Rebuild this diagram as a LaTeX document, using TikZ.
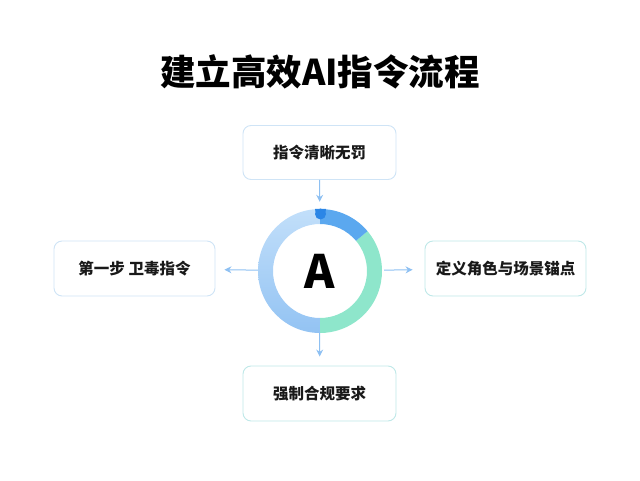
\documentclass[tikz,border=0pt]{standalone}
\usepackage{fontspec}
\setmainfont{Noto Sans CJK SC}
\usetikzlibrary{arrows.meta, positioning, calc}
\definecolor{boxblue}{HTML}{CFE4F6}
\definecolor{boxteal}{HTML}{BFE8E8}
\definecolor{arrowblue}{HTML}{8EC0F2}
\definecolor{ringblue}{HTML}{5BA8EF}
\definecolor{ringgreen}{HTML}{8EE6CB}
\definecolor{ringtop}{HTML}{C2DFFA}
\definecolor{ringbottom}{HTML}{93C3F3}
\definecolor{markblue}{HTML}{2B86E6}
\tikzstyle{stepbox} = [rectangle, rounded corners=8pt, minimum width=153pt, minimum height=54pt, text centered, draw=boxblue, line width=0.9pt, fill=white, font=\fontsize{15.5}{18}\selectfont\bfseries, text=black!90]
\tikzstyle{widebox} = [stepbox, minimum width=161pt, minimum height=55pt]
\tikzstyle{arrow} = [arrowblue, line width=1pt, -{Stealth[length=7pt,width=7pt]}]

\begin{document}
\begin{tikzpicture}[x=1pt, y=1pt]
        \useasboundingbox (0,0) rectangle (640,480);

        \node (title) at (320,408) {\fontsize{35.5}{40}\selectfont\bfseries 建立高效AI指令流程};

        \node (ring) [circle, minimum size=124pt, inner sep=0pt] at (320,209) {\fontsize{46}{46}\selectfont\bfseries A};
        \node (clear) [stepbox] at (319.5,327.5) {指令清晰无罚};
        \node (first) [widebox] at (134.5,211.5) {第一步 卫毒指令};
        \node (role) [widebox, draw=boxteal] at (505.5,211.5) {定义角色与场景锚点};
        \node (rules) [stepbox, draw=boxteal, minimum height=55pt] at (319.5,86.5) {强制合规要求};

        % ring segments
        \shade [top color=ringtop, bottom color=ringbottom] (ring.center) ++(90:62) arc[start angle=90, end angle=270, radius=62] -- ++(270:-15) arc[start angle=270, end angle=90, radius=47] -- cycle;
        \fill [ringgreen] (ring.center) ++(40:62) arc[start angle=40, end angle=-90, radius=62] -- ++(-90:-15) arc[start angle=-90, end angle=40, radius=47] -- cycle;
        \fill [ringblue] (ring.center) ++(90:62) arc[start angle=90, end angle=40, radius=62] -- ++(40:-15) arc[start angle=40, end angle=90, radius=47] -- cycle;
        \fill [markblue] (320.5,266) circle (5.5);
        \fill [markblue] (315,271) -- (326,271) -- (325,265) -- (316,265) -- cycle;

        \draw [arrow, shorten >=7pt] (clear) -- (ring);
        \draw [arrow, shorten >=9pt] (ring) -- (first);
        \draw [arrow, shorten <=2pt, shorten >=12pt] (ring) -- (role);
        \draw [arrow, shorten >=9pt] (ring) -- (rules);

\end{tikzpicture}
\end{document}
